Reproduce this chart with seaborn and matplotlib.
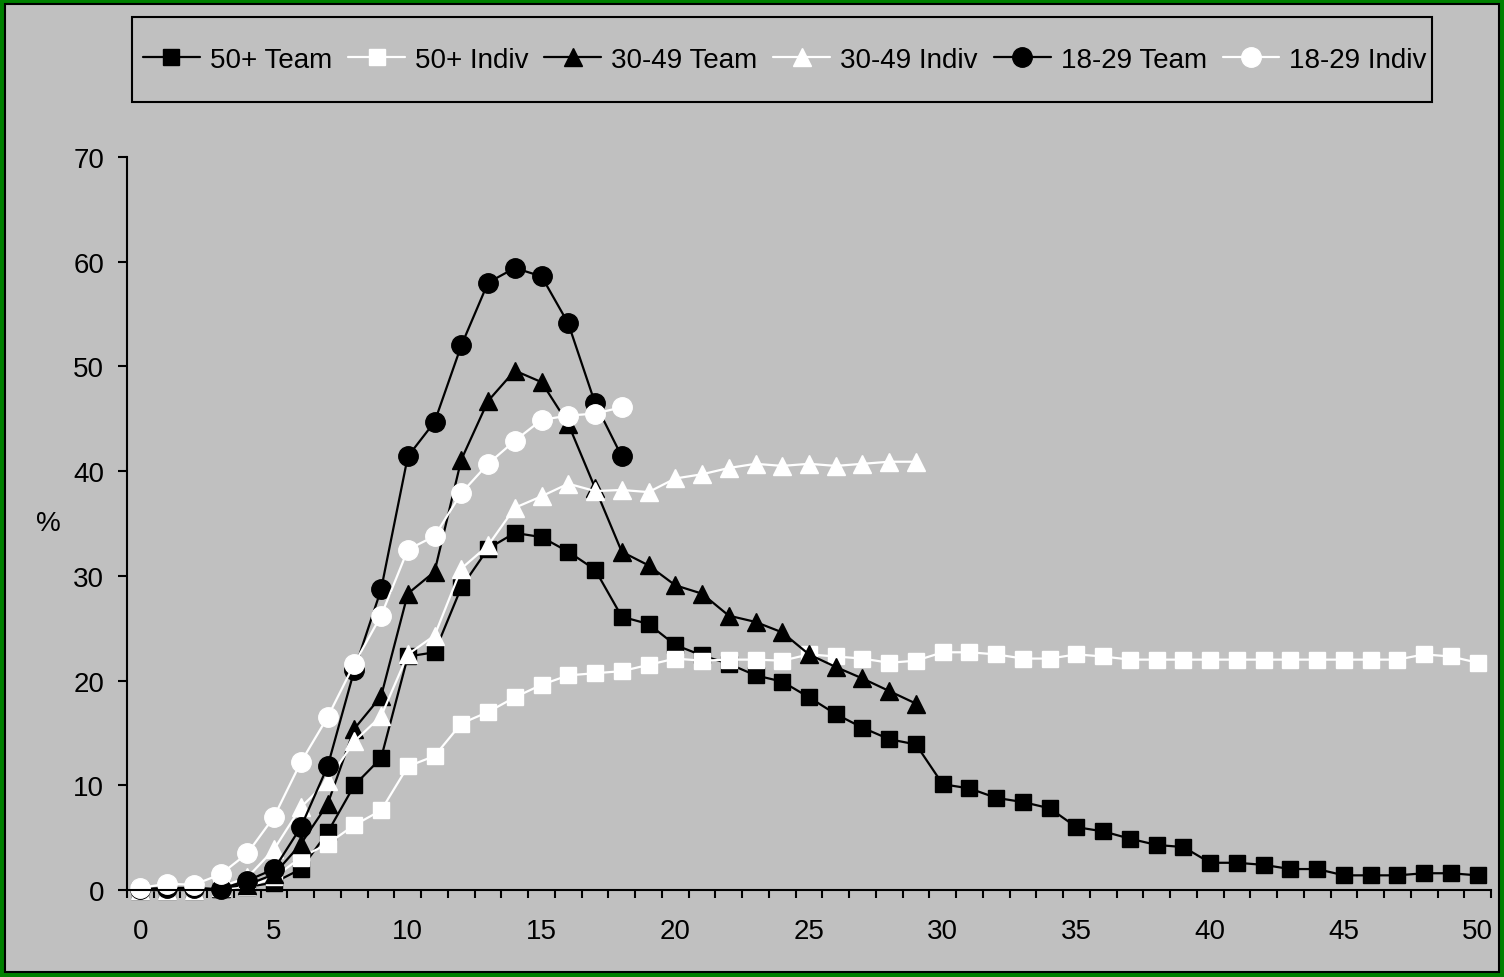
import numpy as np
import pandas as pd
import seaborn as sns
import matplotlib
matplotlib.use("Agg")
import matplotlib.pyplot as plt
from matplotlib.patches import Rectangle

# values (x = 0..50, y in %)
team_50 = [0.0, 0.0, 0.0, 0.1, 0.3, 0.7, 2.0, 5.5, 10.0, 12.6, 22.3, 22.7, 28.9, 32.6, 34.1,
           33.7, 32.3, 30.6, 26.1, 25.4, 23.4, 22.4, 21.6, 20.5, 19.9, 18.4, 16.8, 15.5, 14.4,
           13.9, 10.1, 9.7, 8.8, 8.4, 7.8, 6.0, 5.6, 4.9, 4.3, 4.1, 2.6, 2.6, 2.4, 2.0, 2.0,
           1.4, 1.4, 1.4, 1.6, 1.6, 1.4]
indiv_50 = [0.0, 0.0, 0.0, 0.1, 0.3, 1.2, 3.1, 4.4, 6.2, 7.6, 11.8, 12.8, 15.9, 17.0, 18.4,
            19.6, 20.5, 20.7, 20.9, 21.5, 22.1, 21.9, 22.0, 22.0, 21.9, 22.5, 22.3, 22.1, 21.7,
            21.9, 22.7, 22.7, 22.5, 22.1, 22.1, 22.5, 22.3, 22.0, 22.0, 22.0, 22.0, 22.0, 22.0,
            22.0, 22.0, 22.0, 22.0, 22.0, 22.5, 22.3, 21.7]
team_30 = [0.0, 0.0, 0.0, 0.2, 0.5, 1.5, 4.4, 8.2, 15.4, 18.5, 28.3, 30.4, 41.1, 46.7, 49.6,
           48.5, 44.5, 38.4, 32.3, 31.0, 29.1, 28.3, 26.2, 25.6, 24.6, 22.5, 21.3, 20.2, 19.0,
           17.8]
indiv_30 = [0.0, 0.0, 0.0, 0.3, 1.2, 3.9, 7.9, 10.4, 14.2, 16.6, 22.5, 24.3, 30.7, 32.9, 36.5,
            37.6, 38.8, 38.1, 38.2, 38.0, 39.3, 39.7, 40.3, 40.7, 40.5, 40.7, 40.5, 40.7, 40.9,
            40.9]
team_18 = [0.1, 0.2, 0.2, 0.1, 0.9, 2.0, 6.0, 11.8, 21.0, 28.7, 41.4, 44.7, 52.0, 58.0, 59.4,
           58.6, 54.1, 46.5, 41.4]
indiv_18 = [0.2, 0.6, 0.5, 1.5, 3.5, 7.0, 12.2, 16.5, 21.6, 26.2, 32.5, 33.8, 37.9, 40.7, 42.9,
            44.9, 45.3, 45.5, 46.1]

labels = ["50+ Team", "50+ Indiv", "30-49 Team", "30-49 Indiv", "18-29 Team", "18-29 Indiv"]
values = [team_50, indiv_50, team_30, indiv_30, team_18, indiv_18]
markers = ["s", "s", "^", "^", "o", "o"]
colors = ["black", "white", "black", "white", "black", "white"]
sizes = [11.5, 11.5, 12.5, 12.5, 14, 14]

grey = "#C0C0C0"
sns.set_theme(style="ticks")
plt.rcParams["font.family"] = ["Liberation Sans", "DejaVu Sans"]
plt.rcParams["text.color"] = "black"
plt.rcParams["axes.labelcolor"] = "black"
plt.rcParams["xtick.color"] = "black"
plt.rcParams["ytick.color"] = "black"

W, H = 1504, 978
fig = plt.figure(figsize=(W / 100, H / 100), dpi=100)
fig.patch.set_facecolor(grey)
ax = fig.add_axes([127 / W, 1 - 891 / H, (1491 - 127) / W, (891 - 158) / H])
ax.set_facecolor(grey)

handles = []
for name, vals, mk, col, ms in zip(labels, values, markers, colors, sizes):
    df = pd.DataFrame({"x": np.arange(len(vals)), "pct": vals})
    sns.lineplot(data=df, x="x", y="pct", ax=ax, color=col, marker=mk, markersize=ms,
                 markeredgecolor=col, markerfacecolor=col, markeredgewidth=1,
                 linewidth=1.6, errorbar=None, legend=False, clip_on=False)
    handles.append(ax.lines[-1])

ax.set_xlim(-0.5, 50.5)
ax.set_ylim(0, 70)
ax.set_xlabel("")
ax.set_ylabel("")
ax.set_xticks(np.arange(0, 51, 5))
ax.set_xticks(np.arange(-0.5, 51, 1), minor=True)
ax.set_yticks(np.arange(0, 71, 10))
ax.tick_params(axis="x", which="major", length=0, pad=20, labelsize=20, colors="black")
ax.tick_params(axis="x", which="minor", length=6, width=1.5, direction="out", color="black")
ax.tick_params(axis="y", length=6.5, width=1.5, direction="out", pad=10, labelsize=20,
               colors="black")
for side in ["top", "right"]:
    ax.spines[side].set_visible(False)
for side in ["left", "bottom"]:
    ax.spines[side].set_color("black")
    ax.spines[side].set_linewidth(1.5)
ax.text(-0.058, 0.5, "%", transform=ax.transAxes, fontsize=20, ha="center", va="center",
        color="black")

# legend entries without frame; the box is drawn separately so the text can run into it
leg = fig.legend(handles, labels, loc="center left", bbox_to_anchor=(143 / W, 1 - 60.5 / H),
                 ncol=6, fontsize=20, frameon=False, borderpad=0, borderaxespad=0,
                 handlelength=2.05, handletextpad=0.36, columnspacing=0.57, labelcolor="black")
fig.patches.append(Rectangle((132 / W, 1 - 103 / H), (1432 - 132) / W, 85 / H,
                             transform=fig.transFigure, fill=False, edgecolor="black",
                             linewidth=1.5, zorder=5))

# green outer border with thin black inner line
fig.patches.append(Rectangle((0, 0), 1, 1, transform=fig.transFigure, fill=False,
                             edgecolor="#008000", linewidth=7, zorder=10))
fig.patches.append(Rectangle((5 / W, 5 / H), 1 - 10 / W, 1 - 10 / H,
                             transform=fig.transFigure, fill=False, edgecolor="black",
                             linewidth=1.5, zorder=10))

fig.savefig("out.png", dpi=100, facecolor=grey)
